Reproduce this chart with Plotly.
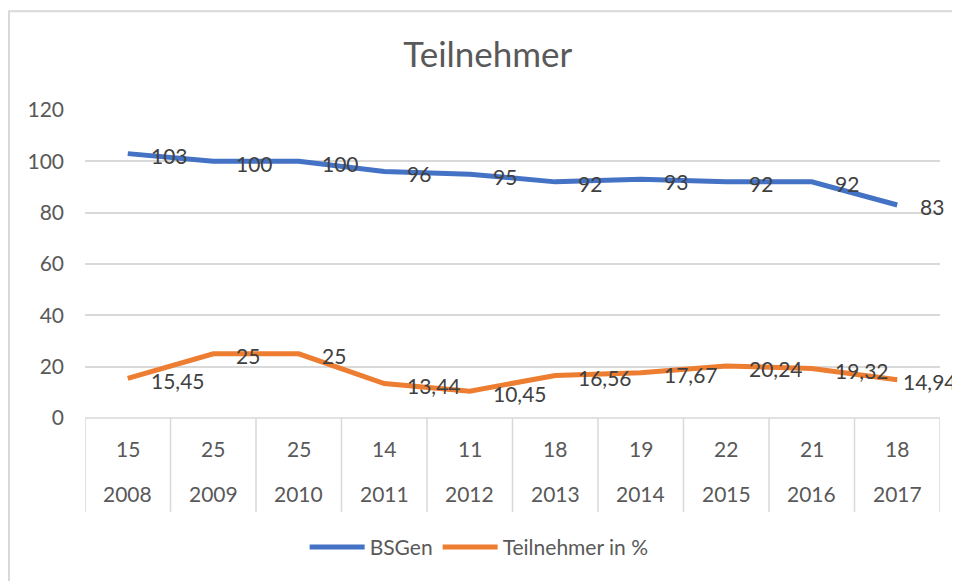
import plotly.graph_objects as go

years = ["2008", "2009", "2010", "2011", "2012", "2013", "2014", "2015", "2016", "2017"]
counts = ["15", "25", "25", "14", "11", "18", "19", "22", "21", "18"]
bsgen = [103, 100, 100, 96, 95, 92, 93, 92, 92, 83]
teil_pct = [15.45, 25, 25, 13.44, 10.45, 16.56, 17.67, 20.24, 19.32, 14.94]

FONT = "Lato"
GRAY = "#595959"
GRID = "#d9d9d9"
BLUE = "#4472C4"
ORANGE = "#ED7D31"

xpos = list(range(len(years)))

fig = go.Figure()
fig.add_trace(go.Scatter(x=xpos, y=bsgen, mode="lines", name="BSGen",
                         line=dict(color=BLUE, width=5)))
fig.add_trace(go.Scatter(x=xpos, y=teil_pct, mode="lines", name="Teilnehmer in %",
                         line=dict(color=ORANGE, width=5)))

def fmt(v):
    return f"{v:g}".replace(".", ",")

annotations = []
# data labels (the last, wide label is nudged left to stay inside the chart, as in the original)
for series in (bsgen, teil_pct):
    for xi, v in zip(xpos, series):
        txt = fmt(v)
        shift = 21
        if xi == xpos[-1] and len(txt) > 3:
            shift = 4
        annotations.append(dict(x=xi, y=v, xref="x", yref="y", text=txt,
                                showarrow=False, xanchor="left", yanchor="middle",
                                xshift=shift, yshift=-2,
                                font=dict(family=FONT, size=21, color="#404040")))
# two-level category labels
for xi, c, yr in zip(xpos, counts, years):
    annotations.append(dict(x=xi, y=0, xref="x", yref="paper", text=c, showarrow=False,
                            xanchor="center", yanchor="middle", yshift=-30,
                            font=dict(family=FONT, size=21, color=GRAY)))
    annotations.append(dict(x=xi, y=0, xref="x", yref="paper", text=yr, showarrow=False,
                            xanchor="center", yanchor="middle", yshift=-75,
                            font=dict(family=FONT, size=21, color=GRAY)))

shapes = []
for k in range(len(years) + 1):
    shapes.append(dict(type="line", xref="x", yref="paper", x0=k - 0.5, x1=k - 0.5,
                       y0=0, y1=-0.305, line=dict(color=GRID, width=1.5)))
shapes.append(dict(type="line", xref="paper", yref="paper", x0=0, x1=1, y0=0, y1=0,
                   line=dict(color=GRID, width=1.5)))
shapes.append(dict(type="rect", xref="paper", yref="paper", x0=-0.0889, x1=1.1, y0=-0.6, y1=1.321,
                   line=dict(color=GRID, width=2), layer="below"))

fig.update_layout(
    width=952, height=573,
    paper_bgcolor="white", plot_bgcolor="white",
    margin=dict(l=77, r=20, t=102, b=163, autoexpand=False),
    title=dict(text="Teilnehmer", x=0.504, xanchor="center", y=0.918, yanchor="middle",
               font=dict(family=FONT, size=35, color=GRAY)),
    font=dict(family=FONT, size=21, color=GRAY),
    showlegend=True,
    legend=dict(orientation="h", x=0.461, xanchor="center", y=-0.42, yanchor="middle",
                font=dict(family=FONT, size=21, color=GRAY), itemwidth=55,
                traceorder="normal"),
    annotations=annotations,
    shapes=shapes,
)
fig.update_xaxes(range=[-0.5, len(years) - 0.5], showgrid=False, showline=False,
                 showticklabels=False, zeroline=False, ticks="")
fig.update_yaxes(range=[0, 120], dtick=20, showgrid=True, gridcolor=GRID, gridwidth=1.5,
                 zeroline=False, showline=False, ticks="", ticklabelstandoff=20,
                 tickfont=dict(family=FONT, size=21, color=GRAY))

fig.write_html("out.html")
